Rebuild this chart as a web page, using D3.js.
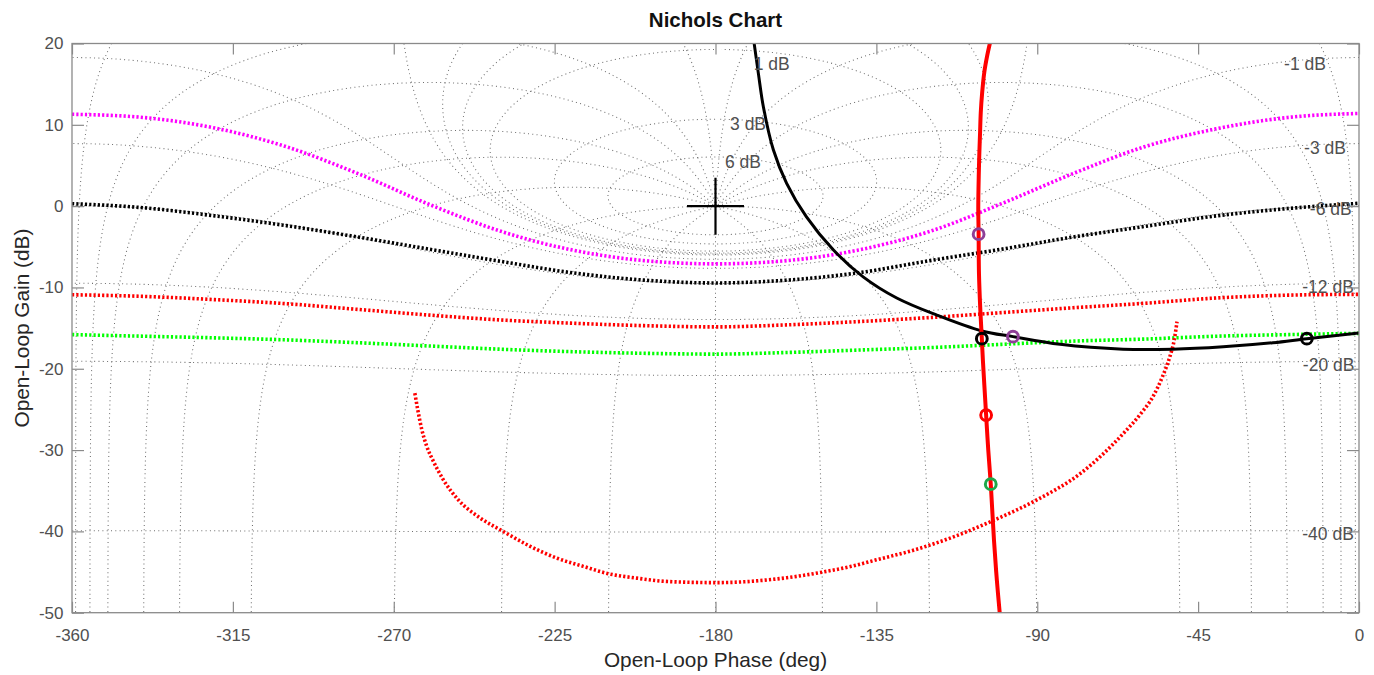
<!DOCTYPE html>
<html>
<head>
<meta charset="utf-8">
<title>Nichols Chart</title>
<script src="https://cdn.jsdelivr.net/npm/d3@7"></script>
<style>
  html, body { margin: 0; padding: 0; background: #fff; }
  svg { display: block; font-family: "Liberation Sans", Arial, Helvetica, sans-serif; }
</style>
</head>
<body>
<svg id="chart" width="1374" height="675"></svg>
<script>
// ---------------- data ----------------
// axis ticks
const phaseTicks = [-360, -315, -270, -225, -180, -135, -90, -45, 0];
const gainTicks = [-50, -40, -30, -20, -10, 0, 10, 20];

// Nichols grid: closed-loop magnitude (dB) and closed-loop phase (deg) contours
const gridGainsDb = [6, 3, 1, 0.5, 0.25, 0, -1, -3, -6, -12, -20, -40, -60];
const gridPhasesDeg = [1, 5, 10, 20, 30, 50, 90, 120, 150, 180];
const labelledGainsDb = [6, 3, 1, -1, -3, -6, -12, -20, -40];

// performance bounds sampled on a common phase vector (deg / dB)
const boundPhase = [-360, -340, -320, -300, -280, -260, -240, -220, -200, -180,
                    -160, -140, -120, -100, -80, -60, -40, -20, 0];
const boundMagenta = [11.3, 10.9, 9.6, 7.3, 4.0, 0.2, -3.1, -5.4, -6.7, -7.1,
                      -6.7, -5.4, -3.1, 0.3, 4.0, 7.3, 9.5, 10.9, 11.4];
const boundBlack = [0.3, -0.2, -1.2, -2.4, -3.8, -5.3, -6.8, -8.2, -9.1, -9.45,
                    -9.1, -8.2, -6.7, -5.3, -3.8, -2.5, -1.2, -0.3, 0.35];
const boundRed = [-10.9, -11.1, -11.5, -12.0, -12.7, -13.4, -14.0, -14.4, -14.7, -14.85,
                  -14.6, -14.2, -13.7, -13.1, -12.5, -11.95, -11.3, -10.95, -10.85];
const boundGreen = [-15.8, -16.0, -16.2, -16.45, -16.8, -17.2, -17.6, -17.9, -18.1, -18.2,
                    -18.0, -17.7, -17.4, -17.0, -16.6, -16.35, -16.0, -15.8, -15.65];

// open (U-shaped) bound
const openBoundPhase = [-264.1, -263.3, -262.2, -260.8, -259.0, -256.2, -252.0, -246, -239.4, -232,
                        -224.3, -217, -210, -202, -195.5, -188, -180, -172, -167.6, -160,
                        -150, -142, -135, -124.5, -113, -102, -90, -78, -66, -61,
                        -57.6, -55, -52.9, -51.7, -50.9];
const openBoundGain = [-23.0, -25.0, -27.4, -29.5, -31.3, -33.6, -36.1, -38.3, -40.0, -41.8,
                       -43.3, -44.3, -45.2, -45.75, -46.1, -46.25, -46.3, -46.2, -46.05, -45.7,
                       -45.0, -44.3, -43.5, -42.3, -40.6, -38.6, -36.1, -32.9, -28.0, -25.5,
                       -23.4, -21.0, -18.5, -16.5, -14.2];

// nominal loop (red) and second loop (black), open-loop phase / gain
const loopRedPhase = [-103.0, -104.0, -104.8, -105.4, -105.8, -106.0, -106.2, -106.35, -106.5, -106.4,
                      -106.3, -105.9, -105.5, -105.2, -104.8, -104.3, -103.7, -103.0, -102.1, -101.3,
                      -100.4];
const loopRedGain = [20.5, 18.5, 16.5, 14.0, 11.5, 9.0, 6.5, 4.0, 0.0, -3.45,
                     -8.3, -13.0, -16.3, -19.0, -22.0, -25.7, -30.0, -34.2, -41.1, -46.0,
                     -50.5];
const loopBlackPhase = [-169.5, -168.0, -166.6, -163.8, -160.1, -154.6, -147.0, -138.7, -129.3, -118.1,
                        -105.5, -96.8, -83.6, -66, -52, -38, -24.1, -14.6, 0];
const loopBlackGain = [21.0, 16.3, 12.2, 6.9, 2.8, -1.3, -5.4, -8.7, -11.3, -13.4,
                       -15.35, -16.05, -17.0, -17.6, -17.6, -17.3, -16.8, -16.3, -15.6];

// frequency markers on the loops
const markerPhase = [-106.4, -96.8, -105.5, -14.6, -104.3, -103.0];
const markerGain = [-3.45, -16.05, -16.3, -16.3, -25.7, -34.2];
const markerGroup = ["magenta", "magenta", "black", "black", "red", "green"];

// critical point
const criticalPhase = -180;
const criticalGain = 0;

// ---------------- layout & style ----------------
const W = 1374, H = 675;
const margin = { top: 43.5, right: 15, bottom: 62.3, left: 72 };
const axisGray = "#8a8a8a";
const textGray = "#505050";
const boundColor = { magenta: "#ff00ff", black: "#000000", red: "#ff0000", green: "#00ff00" };
const markerColor = { magenta: "#8e3f96", black: "#000000", red: "#ff0000", green: "#1fa84a" };
// anchor phase (deg) of each contour label
const labelAnchor = { "6": -172.3, "3": -170.9, "1": -164.3, "-1": -15.1, "-3": -9.5,
                      "-6": -7.9, "-12": -8.65, "-20": -8.5, "-40": -8.65 };
const labelMaxGain = 17.85;

const x = d3.scaleLinear().domain([-360, 0]).range([margin.left, W - margin.right]);
const y = d3.scaleLinear().domain([-50, 20]).range([H - margin.bottom, margin.top]);

const svg = d3.select("#chart");
svg.append("rect").attr("width", W).attr("height", H).attr("fill", "#fff");

svg.append("defs").append("clipPath").attr("id", "plotClip")
  .append("rect")
  .attr("x", x(-360)).attr("y", y(20))
  .attr("width", x(0) - x(-360)).attr("height", y(-50) - y(20));

const plot = svg.append("g").attr("clip-path", "url(#plotClip)");
const D2R = Math.PI / 180;

// open-loop point (phase deg, gain dB) for closed-loop value T = M e^{j th}
function olPoint(M, thDeg, shift) {
  const th = thDeg * D2R;
  const re = 1 - M * Math.cos(th), im = -M * Math.sin(th);
  const phase = thDeg - Math.atan2(im, re) / D2R + shift;
  const gain = 20 * Math.log10(M / Math.hypot(re, im));
  return [phase, gain];
}

const gridLine = d3.line().x(d => x(d[0])).y(d => y(d[1]));
const gridG = plot.append("g")
  .attr("fill", "none").attr("stroke", "#6f6f6f")
  .attr("stroke-width", 1.05).attr("stroke-dasharray", "1 3.3");

// closed-loop magnitude contours
gridGainsDb.forEach(db => {
  const M = Math.pow(10, db / 20);
  const pts = [];
  if (M < 1) {
    for (let t = 0; t >= -360; t -= 0.25) pts.push(olPoint(M, t, 0));
  } else {
    for (let t = 0.05; t < 360; t += 0.25) {
      const th = t * D2R;
      const tr = M * Math.cos(th), ti = M * Math.sin(th);
      const dr = 1 - tr, di = -ti, den = dr * dr + di * di;
      const gr = (tr * dr + ti * di) / den, gi = (ti * dr - tr * di) / den;
      let p = Math.atan2(gi, gr) / D2R;
      if (p > 0) p -= 360;
      pts.push([p, 20 * Math.log10(Math.hypot(gr, gi))]);
    }
  }
  gridG.append("path").attr("d", gridLine(pts.map(p => [p[0], Math.max(Math.min(p[1], 80), -120)])));
});

// closed-loop phase contours
const phaseSet = [];
gridPhasesDeg.forEach(p => { phaseSet.push(-p); if (p !== 180) phaseSet.push(p); });
phaseSet.forEach(th => {
  const pts = [];
  for (let s = -3.5; s <= 4; s += 0.001) {
    const pt = olPoint(Math.pow(10, s), th, th > 0 ? -360 : 0);
    pts.push([pt[0], Math.max(Math.min(pt[1], 80), -120)]);
  }
  gridG.append("path").attr("d", gridLine(pts));
});

// open-loop gain of a magnitude contour at a given phase (upper branch if M > 1)
function contourGain(db, phaseDeg) {
  const M = Math.pow(10, db / 20), M2 = M * M;
  const a = 1 - M2, b = -2 * M2 * Math.cos(phaseDeg * D2R), c = -M2;
  const disc = Math.sqrt(Math.max(b * b - 4 * a * c, 0));
  const m = M < 1 ? (-b + disc) / (2 * a) : (-b - disc) / (2 * a);
  return 20 * Math.log10(m);
}

// contour labels
const labelG = svg.append("g").attr("font-size", 17.5).attr("fill", textGray)
  .attr("text-anchor", "middle");
labelledGainsDb.forEach(db => {
  const ph = labelAnchor[String(db)];
  const g = Math.min(contourGain(db, ph), labelMaxGain);
  labelG.append("text")
    .attr("x", x(ph)).attr("y", y(g)).attr("dy", "0.53em")
    .text(db + " dB");
});

// bounds
const boundLine = d3.line().curve(d3.curveMonotoneX).x(d => x(d[0])).y(d => y(d[1]));
const bounds = [
  { key: "magenta", g: boundMagenta },
  { key: "black", g: boundBlack },
  { key: "red", g: boundRed },
  { key: "green", g: boundGreen }
];
const boundG = plot.append("g").attr("fill", "none")
  .attr("stroke-width", 3.6).attr("stroke-dasharray", "2.2 2.1");
bounds.forEach(b => {
  boundG.append("path")
    .attr("stroke", boundColor[b.key])
    .attr("d", boundLine(boundPhase.map((p, i) => [p, b.g[i]])));
});
boundG.append("path")
  .attr("stroke", boundColor.red)
  .attr("d", boundLine(openBoundPhase.map((p, i) => [p, openBoundGain[i]])));

// loops
const loopLine = d3.line().curve(d3.curveCatmullRom.alpha(0.5)).x(d => x(d[0])).y(d => y(d[1]));
plot.append("path").attr("fill", "none").attr("stroke", "#000").attr("stroke-width", 3)
  .attr("d", loopLine(loopBlackPhase.map((p, i) => [p, loopBlackGain[i]])));
plot.append("path").attr("fill", "none").attr("stroke", "#ff0000").attr("stroke-width", 4)
  .attr("d", loopLine(loopRedPhase.map((p, i) => [p, loopRedGain[i]])));

// frequency markers
plot.append("g").selectAll("circle")
  .data(markerPhase.map((p, i) => ({ p, g: markerGain[i], k: markerGroup[i] })))
  .join("circle")
  .attr("cx", d => x(d.p)).attr("cy", d => y(d.g)).attr("r", 5.4)
  .attr("fill", "none").attr("stroke", d => markerColor[d.k]).attr("stroke-width", 3);

// critical point marker
const cx = x(criticalPhase), cy = y(criticalGain), arm = 28.5;
plot.append("path")
  .attr("d", `M${cx - arm},${cy}H${cx + arm}M${cx},${cy - arm}V${cy + arm}`)
  .attr("stroke", "#000").attr("stroke-width", 2.2).attr("fill", "none");

// axes
function styleAxis(g) {
  g.select(".domain").remove();
  g.selectAll(".tick line").attr("stroke", axisGray).attr("stroke-width", 1.2);
  g.selectAll(".tick text").attr("fill", textGray).attr("font-size", 17)
    .attr("font-family", "Liberation Sans, Arial, Helvetica, sans-serif");
}
const fmt = d => String(d);
svg.append("g").attr("transform", `translate(0,${y(-50)})`)
  .call(d3.axisBottom(x).tickValues(phaseTicks).tickSizeInner(-11).tickSizeOuter(0)
    .tickPadding(16.5).tickFormat(fmt))
  .call(styleAxis);
svg.append("g").attr("transform", `translate(0,${y(20)})`)
  .call(d3.axisTop(x).tickValues(phaseTicks).tickSizeInner(-11).tickSizeOuter(0).tickFormat(""))
  .call(styleAxis);
svg.append("g").attr("transform", `translate(${x(-360)},0)`)
  .call(d3.axisLeft(y).tickValues(gainTicks).tickSizeInner(-12).tickSizeOuter(0)
    .tickPadding(8.5).tickFormat(fmt))
  .call(styleAxis);
svg.append("g").attr("transform", `translate(${x(0)},0)`)
  .call(d3.axisRight(y).tickValues(gainTicks).tickSizeInner(-12).tickSizeOuter(0).tickFormat(""))
  .call(styleAxis);

svg.append("rect")
  .attr("x", x(-360)).attr("y", y(20))
  .attr("width", x(0) - x(-360)).attr("height", y(-50) - y(20))
  .attr("fill", "none").attr("stroke", axisGray).attr("stroke-width", 1.3);

// titles
svg.append("text").attr("x", (x(-360) + x(0)) / 2).attr("y", 26.7)
  .attr("text-anchor", "middle").attr("font-size", 20.5).attr("font-weight", "bold")
  .attr("fill", "#111").text("Nichols Chart");
svg.append("text").attr("x", (x(-360) + x(0)) / 2).attr("y", 667)
  .attr("text-anchor", "middle").attr("font-size", 20.8).attr("fill", "#262626")
  .text("Open-Loop Phase (deg)");
svg.append("text")
  .attr("transform", `translate(29,${(y(20) + y(-50)) / 2}) rotate(-90)`)
  .attr("text-anchor", "middle").attr("font-size", 20.8).attr("fill", "#262626")
  .text("Open-Loop Gain (dB)");
</script>
</body>
</html>
